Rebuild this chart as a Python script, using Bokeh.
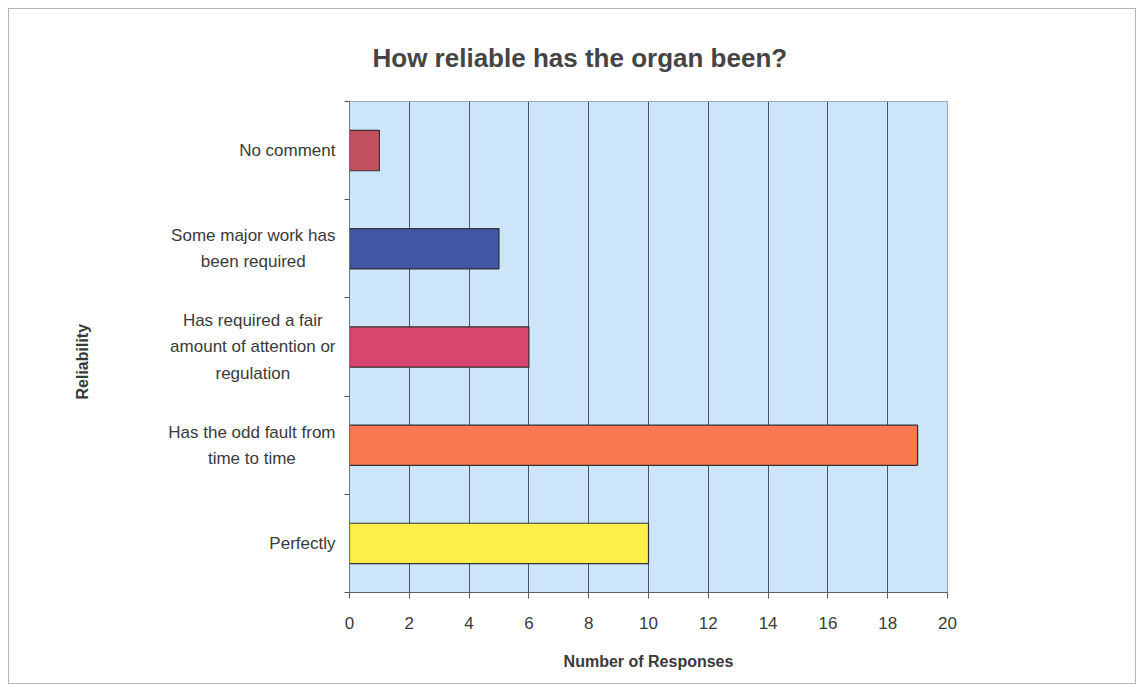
import math
from bokeh.plotting import figure
from bokeh.layouts import row
from bokeh.models import FixedTicker, Title, ColumnDataSource, Range1d
from bokeh.core.properties import value
from bokeh.embed import file_html
from bokeh.resources import INLINE

# Data (bottom to top)
categories = ["Perfectly",
              "Has the odd fault from\ntime to time",
              "Has required a fair\namount of attention or\nregulation",
              "Some major work has\nbeen required",
              "No comment"]
responses = [10, 19, 6, 5, 1]
colors = ["#FFEF4C", "#FA7950", "#D8456F", "#4256A6", "#C2505F"]
x_ticks = [0, 2, 4, 6, 8, 10, 12, 14, 16, 18, 20]

FONT = "'Liberation Sans Narrow', 'Arial Narrow', 'Liberation Sans', sans-serif"
TXT = "#3a3a3a"

pos = [i + 0.5 for i in range(len(categories))]
bounds = list(range(len(categories) + 1))
src = ColumnDataSource(dict(y=pos, right=responses, color=colors))

LEFT_W = 330
yr = Range1d(0, len(categories))

# ---- main chart ----
p = figure(width=1126 - LEFT_W, height=674, output_backend="svg", toolbar_location=None,
           x_range=Range1d(0, 20), y_range=yr,
           min_border_left=10, min_border_right=188, min_border_top=92, min_border_bottom=91,
           background_fill_color="#CDE5F8", border_fill_color="white")

p.hbar(y="y", left=0, right="right", height=0.41, fill_color="color",
       line_color="#333333", line_width=1.2, source=src)

t = Title(text="How reliable has the organ been?", align="left", offset=23,
          text_font=FONT, text_font_size="26px", text_font_style="bold",
          text_color="#454545", standoff=58)
p.add_layout(t, "above")

xa = p.xaxis[0]
xa.ticker = FixedTicker(ticks=x_ticks)
xa.axis_label = "Number of Responses"
xa.axis_label_text_font = FONT
xa.axis_label_text_font_size = "16px"
xa.axis_label_text_font_style = "bold"
xa.axis_label_text_color = TXT
xa.axis_label_standoff = 21
xa.major_label_text_font = FONT
xa.major_label_text_font_size = "17px"
xa.major_label_text_color = TXT
xa.major_label_standoff = 18
xa.major_tick_out = 6
xa.major_tick_in = 0
xa.minor_tick_line_color = None
xa.axis_line_color = "#55625a"
xa.major_tick_line_color = "#55625a"

ya = p.yaxis[0]
ya.ticker = FixedTicker(ticks=[], minor_ticks=bounds)
ya.minor_tick_out = 5
ya.minor_tick_in = 0
ya.minor_tick_line_color = "#555555"
ya.axis_line_color = "#6a7a80"

p.ygrid.grid_line_color = None
p.xgrid.grid_line_color = "#45566a"
p.xgrid.grid_line_width = 1
p.outline_line_color = "#a0a8b0"

# ---- left panel holding the category names and the axis title ----
lp = figure(width=LEFT_W, height=674, output_backend="svg", toolbar_location=None,
            x_range=Range1d(0, LEFT_W), y_range=yr,
            x_axis_type=None, y_axis_type=None,
            min_border_left=0, min_border_right=0, min_border_top=92, min_border_bottom=91,
            background_fill_color="white", border_fill_color="white", outline_line_color=None)
lp.xgrid.grid_line_color = None
lp.ygrid.grid_line_color = None

lsrc = ColumnDataSource(dict(x=[326] * len(categories), y=pos, text=categories))
lp.text(x="x", y="y", text="text", source=lsrc, anchor=value("center_right"),
        text_align="center", text_baseline="middle",
        text_font=value(FONT), text_font_size="17px", text_color=TXT,
        text_line_height=1.38)

lp.text(x=[73], y=[2.35], text=["Reliability"], angle=math.pi / 2,
        text_align="center", text_baseline="middle",
        text_font=value("'Liberation Sans', sans-serif"), text_font_size="16px",
        text_font_style="bold", text_color=TXT)

layout = row(lp, p, styles={"border": "1px solid #b5b5b5", "margin-left": "8px", "margin-top": "8px"})

open("out.html", "w").write(file_html(layout, INLINE))
